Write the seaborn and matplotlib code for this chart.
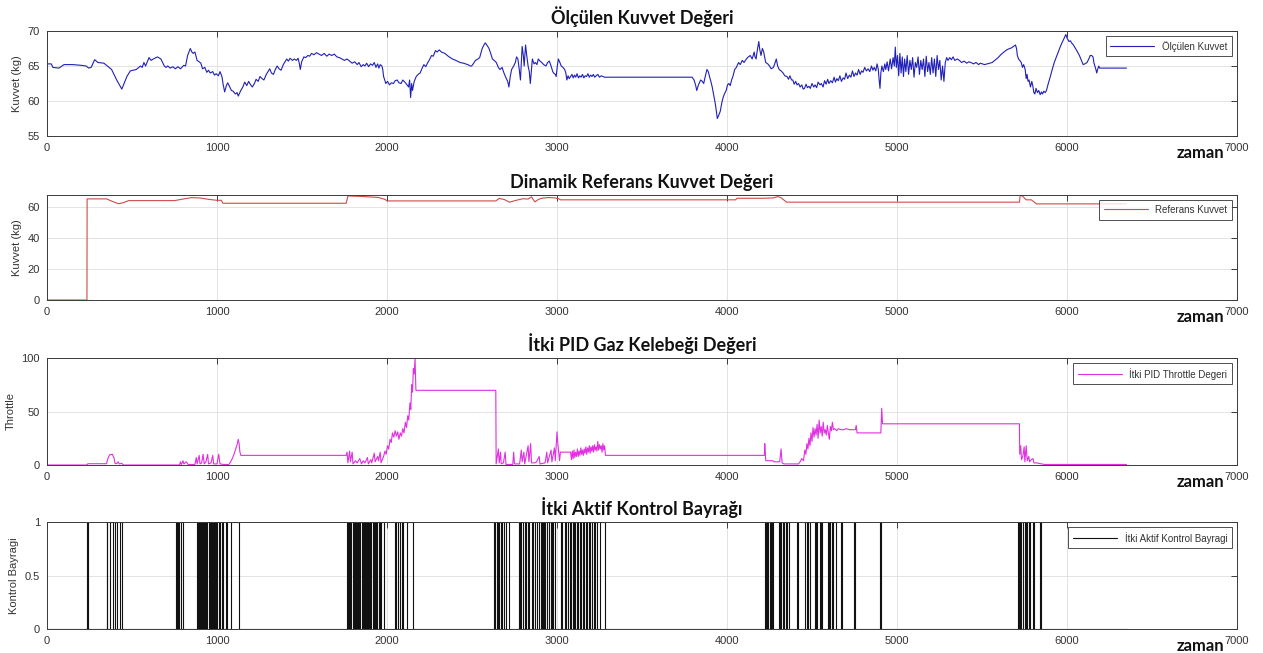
import matplotlib
matplotlib.use("Agg")
import matplotlib.pyplot as plt
import numpy as np
import pandas as pd
import seaborn as sns

# ---------------- data ----------------
force_t = [0, 25, 35, 70, 100, 150, 200, 230, 245, 260, 280, 300, 335, 345, 380, 410, 440, 470, 490, 525,
           550, 560, 570, 580, 600, 612, 625, 650, 670, 690, 700, 710, 725, 740, 755, 770, 785, 805, 815, 827,
           843, 852, 860, 870, 883, 895, 905, 915, 928, 940, 950, 960, 975, 985, 995, 1008, 1018, 1030, 1035, 1045,
           1055, 1063, 1075, 1085, 1095, 1108, 1118, 1125, 1140, 1152, 1163, 1175, 1186, 1198, 1208, 1220, 1230, 1242, 1253, 1265,
           1276, 1290, 1300, 1310, 1320, 1332, 1343, 1354, 1365, 1377, 1390, 1400, 1410, 1420, 1430, 1444, 1455, 1467, 1477, 1484,
           1490, 1498, 1511, 1522, 1534, 1545, 1556, 1570, 1585, 1600, 1615, 1630, 1646, 1660, 1675, 1690, 1705, 1720, 1735, 1750,
           1765, 1780, 1795, 1810, 1825, 1835, 1848, 1860, 1870, 1880, 1892, 1903, 1915, 1925, 1935, 1945, 1952, 1960, 1970, 1975,
           1980, 1993, 2003, 2015, 2025, 2038, 2048, 2060, 2070, 2083, 2093, 2105, 2115, 2127, 2133, 2139, 2145, 2150, 2160, 2172,
           2183, 2195, 2205, 2217, 2228, 2240, 2250, 2262, 2272, 2285, 2295, 2307, 2320, 2340, 2360, 2385, 2405, 2430, 2450, 2475,
           2490, 2498, 2510, 2520, 2535, 2545, 2560, 2570, 2578, 2590, 2600, 2610, 2620, 2630, 2643, 2655, 2665, 2677, 2688, 2700,
           2710, 2717, 2725, 2733, 2745, 2755, 2762, 2770, 2778, 2785, 2795, 2802, 2807, 2815, 2822, 2830, 2837, 2843, 2850, 2855,
           2865, 2873, 2882, 2890, 2900, 2910, 2922, 2935, 2945, 2955, 2965, 2975, 2980, 2990, 2995, 3002, 3008, 3017, 3025, 3035,
           3045, 3052, 3058, 3065, 3072, 3080, 3088, 3095, 3103, 3110, 3118, 3126, 3134, 3142, 3150, 3158, 3166, 3174, 3182, 3190,
           3198, 3206, 3214, 3222, 3230, 3240, 3250, 3260, 3270, 3280, 3500, 3795,
           3806, 3815, 3822, 3832, 3845, 3855, 3863, 3872, 3882, 3890, 3897, 3905, 3913, 3922, 3932, 3943, 3952, 3960, 3970, 3977,
           3985, 3995, 4003, 4011, 4019, 4027, 4036, 4045, 4055, 4068, 4078, 4090, 4100, 4114, 4125, 4137, 4148, 4160, 4165, 4171,
           4178, 4187, 4193, 4200, 4208, 4216, 4222, 4228, 4240, 4250, 4260, 4273, 4282, 4290, 4298, 4307, 4318, 4330, 4340, 4353,
           4362, 4370, 4380, 4387, 4395, 4404, 4412, 4421, 4430, 4440, 4448, 4456, 4465, 4473, 4482, 4490, 4500, 4510, 4518, 4527,
           4536, 4547, 4555, 4565, 4574, 4583, 4592, 4600, 4610, 4620, 4630, 4638, 4646, 4655, 4664, 4673, 4683, 4692, 4700, 4710,
           4720, 4729, 4738, 4747, 4756, 4765, 4774, 4783, 4792, 4800, 4810, 4820, 4830, 4840, 4850, 4858, 4866, 4875, 4883, 4890,
           4895, 4900, 4905, 4911, 4920, 4928, 4934, 4942, 4950, 4960, 4968, 4977, 4984, 4990, 4996, 5003, 5010, 5017, 5024, 5031,
           5038, 5045, 5052, 5060, 5068, 5076, 5084, 5092, 5100, 5108, 5116, 5124, 5132, 5140, 5148, 5156, 5164, 5172, 5180, 5188,
           5196, 5204, 5212, 5220, 5228, 5236, 5244, 5252, 5260, 5268, 5276, 5284, 5292, 5300, 5310, 5320, 5330, 5340, 5355, 5367,
           5380, 5395, 5410, 5422, 5435, 5450, 5465, 5480, 5490, 5503, 5515, 5530, 5545, 5560, 5575, 5595, 5610, 5629, 5645, 5663,
           5675, 5685, 5697, 5703, 5708, 5715, 5722, 5731, 5738, 5745, 5754, 5760, 5765, 5771, 5777, 5785, 5793, 5800, 5805, 5811,
           5818, 5826, 5834, 5842, 5850, 5856, 5864, 5872, 5879, 5890, 5902, 5913, 5925, 5936, 5948, 5958, 5970, 5982, 5993, 6000,
           6005, 6012, 6020, 6027, 6038, 6050, 6062, 6073, 6085, 6095, 6105, 6118, 6128, 6137, 6145, 6153, 6158, 6164, 6170, 6175,
           6180, 6187, 6192, 6198, 6350]
force_v = [65.3, 65.3, 64.8, 64.7, 65.2, 65.2, 65.1, 65.0, 64.7, 64.8, 65.9, 65.5, 65.4, 65.2, 64.5, 63.0, 61.7, 63.5, 64.3, 64.5,
           65.0, 64.8, 65.5, 65.0, 66.2, 65.8, 66.0, 66.3, 66.0, 65.0, 64.8, 65.0, 64.7, 64.9, 64.6, 64.9, 64.6, 65.1, 65.0, 66.5,
           67.5, 67.0, 66.8, 67.0, 65.8, 65.6, 65.4, 64.6, 64.8, 64.1, 64.4, 64.0, 64.2, 63.7, 63.9, 63.6, 64.2, 63.4, 62.5, 61.3,
           62.2, 62.6, 62.0, 61.5, 61.4, 61.0, 61.2, 60.7, 61.5, 62.0, 62.7, 62.2, 62.8, 62.3, 62.0, 62.5, 63.1, 62.8, 63.5, 63.2,
           63.0, 63.8, 64.2, 64.6, 64.0, 63.8, 64.5, 65.0, 64.6, 64.4, 65.2, 65.6, 66.0, 65.7, 66.1, 65.8, 66.0, 65.8, 66.1, 65.4,
           64.5, 65.6, 66.3, 66.2, 66.5, 66.4, 66.8, 66.6, 66.9, 66.7, 66.5, 66.8, 66.4, 66.7, 66.5, 66.7, 66.3, 66.2, 66.0, 65.8,
           66.0, 65.7, 65.4, 65.6, 65.2, 65.5, 64.9, 65.2, 65.0, 65.4, 64.9, 65.3, 65.1, 65.5, 64.8, 65.3, 64.7, 65.2, 65.0, 64.5,
           63.5, 62.5, 62.8, 62.3, 62.6, 62.5, 62.9, 63.0, 62.6, 62.5, 63.0, 62.7, 62.4, 62.0, 63.0, 60.5, 62.5, 61.5, 62.8, 63.5,
           63.8, 64.0, 64.6, 65.2, 64.9, 65.5, 65.9, 66.5, 66.4, 67.2, 67.0, 67.3, 67.0, 66.8, 66.4, 66.0, 65.8, 65.5, 65.4, 65.2,
           65.0, 65.0, 65.4, 65.8, 66.0, 66.2, 67.5, 68.0, 68.3, 67.9, 67.5, 66.8, 66.0, 65.8, 65.5, 64.8, 64.5, 64.8, 64.0, 63.3,
           62.8, 62.0, 63.5, 64.5, 65.0, 65.5, 66.3, 66.0, 64.5, 63.0, 67.8, 66.5, 65.0, 68.0, 66.5, 65.0, 64.2, 62.5, 64.5, 66.0,
           65.3, 65.5, 65.2, 66.0, 65.7, 65.5, 65.2, 65.0, 65.5, 65.7, 65.0, 64.2, 64.0, 63.8, 63.5, 65.0, 66.0, 65.5, 65.0, 64.8,
           64.5, 64.0, 63.0, 63.6, 63.2, 63.5, 63.8, 63.3, 63.7, 63.4, 63.9, 63.3, 63.6, 63.4, 63.8, 63.3, 63.6, 63.5, 63.9, 63.4,
           63.7, 63.5, 63.8, 63.4, 63.6, 63.8, 63.4, 63.6, 63.5, 63.4, 63.4, 63.4,
           63.0, 62.3, 61.5, 62.3, 63.0, 62.8, 62.5, 63.5, 64.5, 64.2, 63.5, 62.8, 62.0, 60.8, 59.5, 57.5, 58.0, 58.5, 59.8, 60.5,
           61.0, 61.5, 62.3, 62.5, 62.2, 63.0, 63.6, 64.5, 64.8, 65.5, 65.2, 65.8, 65.5, 66.0, 66.3, 66.5, 66.0, 67.0, 66.3, 66.0,
           67.2, 68.5, 67.3, 66.5, 67.5, 67.0, 66.2, 65.5, 65.3, 65.0, 64.6, 64.8, 65.4, 66.0, 65.0, 64.5, 64.3, 64.0, 63.6, 63.5,
           63.1, 63.6, 63.0, 63.0, 62.4, 62.8, 62.3, 62.5, 62.0, 62.3, 61.7, 61.8, 62.4, 61.9, 62.1, 61.8, 62.5, 62.0, 62.3, 61.9,
           62.7, 62.3, 62.5, 62.0, 62.9, 62.4, 63.1, 62.5, 62.9, 62.6, 63.4, 62.7, 63.2, 62.9, 63.6, 62.8, 63.3, 63.1, 64.0, 63.2,
           63.7, 63.4, 64.3, 63.5, 64.0, 63.7, 64.5, 63.8, 64.3, 64.1, 64.8, 64.3, 64.6, 64.2, 65.0, 64.4, 64.8, 64.3, 65.3, 64.5,
           63.0, 61.8, 64.0, 65.0, 64.2, 65.3, 64.5, 65.6, 64.3, 66.0, 64.6, 66.2, 65.0, 67.7, 64.8, 66.5, 63.6, 66.8, 64.0, 66.3,
           63.5, 66.0, 64.2, 66.5, 63.8, 65.8, 64.5, 66.2, 63.4, 65.5, 64.8, 66.3, 63.8, 65.8, 64.5, 66.0, 63.5, 66.4, 64.2, 65.5,
           63.8, 66.2, 64.0, 66.0, 63.5, 66.5, 64.5, 65.8, 63.0, 65.0, 62.8, 65.5, 66.2, 65.8, 66.2, 65.9, 66.3, 65.8, 66.0, 65.8,
           65.5, 65.7, 65.4, 65.6, 65.5, 65.3, 65.5, 65.2, 65.4, 65.3, 65.2, 65.3, 65.4, 65.5, 65.8, 66.2, 66.6, 67.0, 67.3, 67.5,
           67.6, 67.8, 68.0, 67.5, 66.5, 66.0, 65.8, 65.5, 64.8, 65.2, 64.5, 63.2, 63.8, 62.8, 63.0, 62.0, 62.8, 62.0, 61.2, 61.0,
           61.8, 61.2, 61.5, 60.9, 61.3, 61.0, 61.4, 61.2, 61.5, 62.5, 63.5, 64.5, 65.5, 66.2, 67.0, 67.6, 68.3, 68.9, 69.5, 69.0,
           68.8, 68.5, 68.6, 68.3, 68.0, 67.5, 67.0, 66.5, 65.8, 65.2, 65.3, 65.5, 66.0, 66.5, 66.5, 66.3, 65.5, 65.0, 64.5, 64.0,
           64.5, 65.0, 64.7, 64.7, 64.7]

ref_t = [0, 235, 236, 350, 380, 420, 450, 480, 750, 800, 850, 900, 950, 1000, 1025, 1035, 1760, 1770, 1850, 1950,
         1990, 2000, 2640, 2660, 2690, 2720, 2760, 2800, 2830, 2850, 2860, 2870, 2890, 2910, 2950, 2990, 3010, 3020, 4050, 4060,
         4200, 4270, 4300, 4320, 4350, 5720, 5725, 5740, 5760, 5790, 5800, 5820, 6350]
ref_v = [0, 0, 64.9, 64.9, 63.5, 61.8, 62.5, 63.8, 63.8, 64.8, 65.7, 65.5, 64.6, 64.0, 64.0, 62.1, 62.1, 66.8, 66.5, 65.8,
         64.5, 63.6, 63.6, 65.2, 64.5, 62.8, 64.0, 65.0, 64.8, 66.2, 64.5, 63.0, 64.5, 65.3, 65.8, 65.5, 65.0, 64.3, 64.3, 65.3,
         65.3, 65.5, 66.4, 65.5, 62.8, 62.8, 67.4, 66.5, 64.3, 64.3, 63.5, 61.7, 61.7]

thr_t = [0, 235, 240, 350, 358, 368, 385, 395, 400, 410, 418, 425, 440, 450, 780, 785, 790, 800, 805, 820,
         830, 870, 878, 883, 895, 900, 910, 918, 925, 935, 945, 950, 965, 975, 980, 1000, 1010, 1018, 1040, 1070,
         1080, 1090, 1100, 1110, 1118, 1125, 1130, 1135, 1140, 1760, 1765, 1770, 1780, 1785, 1795, 1800, 1815, 1825, 1840, 1850,
         1860, 1870, 1885, 1890, 1905, 1910, 1925, 1930, 1945, 1950, 1960, 1965, 1972, 1980, 1988, 1995, 2003, 2010, 2018, 2025,
         2032, 2040, 2048, 2055, 2063, 2070, 2078, 2085, 2093, 2100, 2108, 2115, 2122, 2128, 2135, 2140, 2145, 2150, 2155, 2160,
         2165, 2170, 2640, 2642, 2655, 2660, 2668, 2672, 2685, 2695, 2700, 2740, 2745, 2750, 2780, 2790, 2795, 2805, 2810, 2830,
         2835, 2845, 2850, 2870, 2880, 2895, 2900, 2930, 2940, 2945, 2965, 2970, 2985, 2990, 3000, 3005, 3010, 3015, 3020, 3080,
         3085, 3090, 3095, 3100, 3105, 3110, 3115, 3120, 3125, 3130, 3135, 3140, 3145, 3150, 3155, 3160, 3165, 3170, 3175, 3180,
         3185, 3190, 3195, 3200, 3205, 3210, 3215, 3220, 3225, 3230, 3235, 3240, 3245, 3250, 3255, 3260, 3265, 3270, 3275, 3280,
         3285, 4220, 4222, 4228, 4270, 4275, 4310, 4318, 4324, 4335, 4420, 4430, 4440, 4450, 4458, 4464, 4470, 4476, 4482, 4488,
         4494, 4500, 4506, 4512, 4518, 4524, 4530, 4536, 4542, 4548, 4554, 4560, 4566, 4572, 4578, 4584, 4590, 4596, 4602, 4608,
         4614, 4620, 4626, 4634, 4645, 4655, 4670, 4690, 4700, 4720, 4755, 4760, 4765, 4905, 4910, 4915, 5720, 5722, 5728, 5732,
         5740, 5748, 5752, 5760, 5766, 5775, 5780, 5790, 5800, 5805, 5820, 5850, 5870, 6350]
thr_v = [0, 0, 1.2, 1.2, 6, 9.5, 10, 6, 1.5, 1.2, 3, 1, 1.5, 0, 0, 3, 0.5, 4, 1, 3,
         0.5, 0.5, 7, 1, 9, 1, 2, 10, 1, 3, 10, 1, 2, 9, 1, 1, 10, 1, 0.5, 0.5,
         3, 6, 10, 15, 19, 24, 20, 12, 9, 9, 12, 2, 13, 3, 12, 1, 4, 2, 6, 1,
         4, 2, 7, 1, 5, 2, 11, 3, 8, 4, 12, 2, 5, 8, 13, 10, 18, 15, 24, 21,
         30, 26, 32, 27, 31, 24, 30, 27, 34, 30, 40, 35, 46, 42, 58, 52, 75, 68, 90, 85,
         100, 69.8, 69.8, 1, 15, 2, 12, 1, 2, 12, 0.5, 0.5, 12, 1, 1, 14, 3, 12, 1, 18,
         3, 20, 2, 2, 3, 8, 1, 2, 12, 2, 14, 3, 16, 4, 31, 20, 12, 4, 12, 12,
         5, 13, 6, 14, 7, 12, 8, 15, 8, 13, 9, 16, 10, 14, 9, 15, 11, 17, 10, 16,
         12, 18, 11, 17, 13, 18, 12, 19, 14, 17, 13, 22, 14, 19, 15, 18, 12, 20, 14, 18,
         9, 9, 20, 4, 4, 3, 3, 15, 2, 1, 1, 3, 6, 4, 14, 10, 20, 15, 25, 18,
         30, 22, 35, 26, 34, 28, 38, 25, 42, 30, 36, 27, 40, 30, 33, 28, 37, 30, 24, 36,
         32, 40, 33, 34, 32, 34, 33, 33, 34, 33, 33, 37, 30, 30, 53, 38.5, 38.5, 10, 18, 5,
         8, 17, 3, 18, 4, 8, 3, 5, 6, 2, 2, 1, 0.5, 0.5]

# Intervals (start, end) in which the thrust control flag is active
flag_on = [(238, 242), (350, 353), (372, 386), (398, 410), (428, 444),
           (758, 764), (772, 778), (790, 800),
           (880, 886), (892, 900), (905, 912), (918, 924), (930, 938), (944, 952), (958, 963), (968, 975),
           (980, 990), (995, 1002), (1012, 1020), (1030, 1037), (1050, 1056), (1085, 1130),
           (1765, 1772), (1778, 1784), (1790, 1798), (1805, 1810), (1815, 1822), (1830, 1836), (1842, 1850),
           (1856, 1862), (1868, 1876), (1882, 1888), (1895, 1902), (1908, 1915), (1922, 1928), (1935, 1942),
           (1950, 1958), (1965, 1980), (2046, 2052), (2062, 2074), (2086, 2092), (2120, 2150),
           (2628, 2634), (2645, 2652), (2660, 2668), (2678, 2690), (2700, 2718),
           (2775, 2782), (2790, 2800), (2810, 2818), (2830, 2838), (2850, 2856), (2870, 2880), (2895, 2903),
           (2910, 2918), (2925, 2932), (2940, 2955), (2962, 2970), (2978, 2988),
           (3025, 3032), (3045, 3052), (3065, 3075), (3085, 3092), (3100, 3108), (3118, 3126), (3135, 3142),
           (3150, 3160), (3170, 3178), (3188, 3196), (3205, 3215), (3225, 3234), (3250, 3280),
           (4221, 4228), (4235, 4242), (4250, 4258), (4262, 4270), (4305, 4312), (4320, 4328), (4335, 4345),
           (4352, 4365), (4410, 4416), (4460, 4468), (4475, 4486), (4517, 4524), (4530, 4545), (4550, 4558),
           (4594, 4600), (4608, 4618), (4625, 4642), (4670, 4676), (4748, 4752), (4899, 4903),
           (5711, 5718), (5725, 5732), (5740, 5750), (5758, 5765), (5775, 5782), (5800, 5808), (5842, 5846)]
flag_end = 6350

titles = ["Ölçülen Kuvvet Değeri", "Dinamik Referans Kuvvet Değeri",
          "İtki PID Gaz Kelebeği Değeri", "İtki Aktif Kontrol Bayrağı"]
ylabels = ["Kuvvet (kg)", "Kuvvet (kg)", "Throttle", "Kontrol Bayragi"]
legends = ["Ölçülen Kuvvet", "Referans Kuvvet", "İtki PID Throttle Degeri", "İtki Aktif Kontrol Bayragi"]
colors = ["#2020b8", "#cf4a4a", "#e030e0", "#111111"]
x_ticks = [0, 1000, 2000, 3000, 4000, 5000, 6000, 7000]
y_ticks = [[55, 60, 65, 70], [0, 20, 40, 60], [0, 50, 100], [0, 0.5, 1]]
y_ticklabels = [["55", "60", "65", "70"], ["0", "20", "40", "60"], ["0", "50", "100"], ["0", "0.5", "1"]]
y_lims = [(55, 70), (0, 67.4), (0, 100), (0, 1)]

# step representation of the flag signal
flag_x, flag_y = [0], [0]
for s, e in flag_on:
    flag_x += [s, s, e, e]
    flag_y += [0, 1, 1, 0]
flag_x.append(flag_end)
flag_y.append(0)

series = [
    pd.DataFrame({"zaman": force_t, "deger": force_v}),
    pd.DataFrame({"zaman": ref_t, "deger": ref_v}),
    pd.DataFrame({"zaman": thr_t, "deger": thr_v}),
    pd.DataFrame({"zaman": flag_x, "deger": flag_y}),
]

# ---------------- figure ----------------
sns.set_theme(style="white")
plt.rcParams["font.family"] = ["Liberation Sans", "DejaVu Sans"]

W, H = 1263, 653
fig = plt.figure(figsize=(W / 100, H / 100), dpi=100)
fig.patch.set_facecolor("white")

ax_left, ax_right = 47, 1237
tops = [31, 195, 358, 522]
bottoms = [136, 300, 465, 629]

edge = "#3a3a3a"
for i in range(4):
    ax = fig.add_axes([ax_left / W, 1 - bottoms[i] / H,
                       (ax_right - ax_left) / W, (bottoms[i] - tops[i]) / H])
    sns.lineplot(data=series[i], x="zaman", y="deger", ax=ax, color=colors[i],
                 linewidth=0.8, estimator=None, sort=False, label=legends[i])
    ax.set_xlim(0, 7000)
    ax.set_ylim(*y_lims[i])
    ax.set_xticks(x_ticks)
    ax.set_xticklabels([str(v) for v in x_ticks])
    ax.set_yticks(y_ticks[i])
    ax.set_yticklabels(y_ticklabels[i])
    ax.grid(True, color="#dedede", linewidth=0.6)
    ax.set_axisbelow(True)
    for sp in ax.spines.values():
        sp.set_visible(True)
        sp.set_color(edge)
        sp.set_linewidth(0.7)
    ax.tick_params(axis="both", direction="in", length=4, width=0.7, color=edge,
                   labelsize=8, labelcolor="#333333", top=True, right=True, pad=5)
    ax.set_xlabel("")
    ax.set_ylabel(ylabels[i], fontsize=8, color="#333333", labelpad=4)
    ax.set_title(titles[i], fontsize=13, fontweight="bold", color="#111111",
                 family=["Lato", "DejaVu Sans"], pad=5)
    ax.text(0.969, -0.16, "zaman", transform=ax.transAxes, ha="center", va="center",
            fontsize=12, fontweight="bold", color="#111111", family=["Lato", "DejaVu Sans"])
    leg = ax.legend(loc="upper right", fontsize=7, frameon=True, fancybox=False,
                    handlelength=4.5, borderaxespad=0.5, borderpad=0.5)
    leg.get_frame().set_edgecolor("#222222")
    leg.get_frame().set_linewidth(0.7)
    for txt in leg.get_texts():
        txt.set_color("#333333")

fig.savefig("out.png", dpi=100, facecolor="white")
